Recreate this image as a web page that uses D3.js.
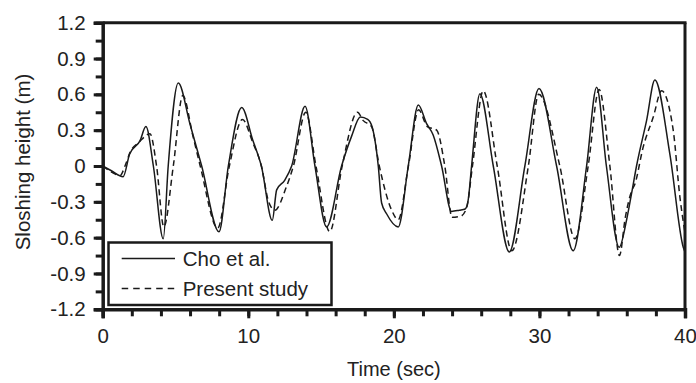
<!DOCTYPE html>
<html lang="en">
<head>
<meta charset="UTF-8">
<title>Sloshing height</title>
<script src="https://d3js.org/d3.v7.min.js"></script>
<style>
  body { margin: 0; background: #fff; }
  svg { display: block; }
  text { font-family: "Liberation Sans", Arial, sans-serif; fill: #222; }
  .axis path, .axis line { stroke: #1a1a1a; }
</style>
</head>
<body>
<script>
// values: time (sec), sloshing height (m)
const timeCho = [0, 0.6, 1.4, 1.85, 2.56, 2.97, 3.48, 4.16, 4.5, 5.19, 6.0, 6.8, 7.99, 8.63, 9.55, 10.3, 10.9, 11.65, 11.95, 12.5, 12.98, 13.9, 14.58, 15.38, 16.41, 17.1, 17.7, 18.2, 18.5, 18.93, 19.16, 19.5, 20.3, 20.99, 21.68, 22.25, 22.7, 23.28, 23.96, 24.5, 24.9, 25.1, 25.34, 25.91, 26.83, 27.93, 29.0, 29.97, 31.18, 32.32, 33.24, 33.93, 34.6, 35.48, 35.99, 36.33, 36.67, 37.36, 37.93, 38.96, 39.88, 40];
const heightCho = [0, -0.04, -0.09, 0.10, 0.21, 0.33, 0, -0.61, 0, 0.695, 0.35, 0, -0.55, 0, 0.49, 0.22, 0, -0.455, -0.2, -0.12, 0, 0.5, 0, -0.51, 0, 0.25, 0.41, 0.39, 0.33, 0, -0.31, -0.4, -0.51, 0, 0.51, 0.355, 0.26, 0, -0.38, -0.37, -0.36, -0.29, 0, 0.606, 0, -0.72, 0, 0.65, 0, -0.71, 0, 0.66, 0, -0.68, -0.45, -0.23, 0, 0.38, 0.72, 0.1, -0.68, -0.72];

const timePresent = [0, 0.6, 1.2, 1.53, 1.9, 2.5, 3.25, 3.7, 4.2, 4.85, 5.5, 6.2, 6.7, 7.9, 8.7, 9.6, 10.3, 10.9, 11.4, 11.83, 12.6, 13.1, 13.95, 14.65, 15.6, 16.45, 17.5, 17.9, 18.47, 19.0, 19.85, 20.3, 21.0, 21.7, 22.3, 22.94, 23.5, 24.0, 24.6, 25.0, 25.4, 26.14, 27.1, 28.1, 29.24, 29.95, 31.4, 32.44, 33.35, 34.1, 34.84, 35.5, 35.9, 36.33, 36.56, 37.13, 37.82, 38.39, 39.19, 39.65, 40];
const heightPresent = [0, -0.05, -0.08, 0, 0.12, 0.2, 0.27, 0, -0.51, 0, 0.59, 0.25, 0, -0.52, 0, 0.39, 0.2, 0, -0.3, -0.37, -0.18, 0, 0.45, 0, -0.55, 0, 0.45, 0.38, 0.33, 0, -0.37, -0.45, 0, 0.47, 0.33, 0.30, 0, -0.43, -0.42, -0.35, 0, 0.63, 0, -0.71, 0, 0.6, 0, -0.61, 0, 0.64, 0, -0.75, -0.43, -0.21, -0.15, 0.16, 0.41, 0.63, 0.30, -0.26, -0.56];

const xTicks = [0, 10, 20, 30, 40];
const yTicks = [1.2, 0.9, 0.6, 0.3, 0, -0.3, -0.6, -0.9, -1.2];

const W = 696, H = 383;
const plotLeft = 102.7, plotRight = 685, plotTop = 22.7, plotBottom = 309.3;

const svg = d3.select('body').append('svg')
  .attr('width', W)
  .attr('height', H);

const x = d3.scaleLinear().domain([0, 40]).range([plotLeft, plotRight]);
const y = d3.scaleLinear().domain([-1.2, 1.2]).range([plotBottom, plotTop]);

// clip so the lines stop at the frame
svg.append('clipPath').attr('id', 'plot')
  .append('rect')
  .attr('x', plotLeft).attr('y', plotTop)
  .attr('width', plotRight - plotLeft).attr('height', plotBottom - plotTop);

const line = d3.line()
  .x(d => x(d[0]))
  .y(d => y(d[1]))
  .curve(d3.curveMonotoneX);

const cho = timeCho.map((t, i) => [t, heightCho[i]]);
const present = timePresent.map((t, i) => [t, heightPresent[i]]);

const lines = svg.append('g').attr('clip-path', 'url(#plot)');
lines.append('path')
  .datum(present)
  .attr('d', line)
  .attr('fill', 'none')
  .attr('stroke', '#1a1a1a')
  .attr('stroke-width', 1.5)
  .attr('stroke-dasharray', '6,4');
lines.append('path')
  .datum(cho)
  .attr('d', line)
  .attr('fill', 'none')
  .attr('stroke', '#1a1a1a')
  .attr('stroke-width', 1.5);

// minor ticks
const xMinor = d3.range(0, 41, 2);
const yMinor = d3.range(-8, 9).map(k => k * 0.15);

svg.append('g')
  .attr('class', 'axis')
  .attr('transform', `translate(0,${plotBottom})`)
  .call(d3.axisBottom(x).tickValues(xMinor).tickSize(7).tickFormat(''))
  .call(g => g.select('.domain').remove())
  .selectAll('line').attr('stroke-width', 3);

svg.append('g')
  .attr('class', 'axis')
  .attr('transform', `translate(${plotLeft},0)`)
  .call(d3.axisLeft(y).tickValues(yMinor).tickSize(7).tickFormat(''))
  .call(g => g.select('.domain').remove())
  .selectAll('line').attr('stroke-width', 3);

// major axes
const xAxis = svg.append('g')
  .attr('class', 'axis')
  .attr('transform', `translate(0,${plotBottom})`)
  .call(d3.axisBottom(x).tickValues(xTicks).tickSizeOuter(0).tickSize(9).tickPadding(10));
xAxis.select('.domain').attr('stroke-width', 3.5);
xAxis.selectAll('line').attr('stroke-width', 3);
xAxis.selectAll('text').style('font-size', '20.5px').attr('fill', '#222');

const yAxis = svg.append('g')
  .attr('class', 'axis')
  .attr('transform', `translate(${plotLeft},0)`)
  .call(d3.axisLeft(y).tickValues(yTicks).tickSizeOuter(0).tickSize(9).tickPadding(8)
    .tickFormat(d => d === 0 ? '0' : d.toFixed(1)));
yAxis.select('.domain').attr('stroke-width', 3.5);
yAxis.selectAll('line').attr('stroke-width', 3);
yAxis.selectAll('text').style('font-size', '20.5px').attr('fill', '#222');

// top and right frame
svg.append('line')
  .attr('x1', plotLeft).attr('x2', plotRight + 1.5)
  .attr('y1', plotTop).attr('y2', plotTop)
  .attr('stroke', '#1a1a1a').attr('stroke-width', 3);
svg.append('line')
  .attr('x1', plotRight).attr('x2', plotRight)
  .attr('y1', plotTop).attr('y2', plotBottom)
  .attr('stroke', '#1a1a1a').attr('stroke-width', 3);

// axis titles
svg.append('text')
  .attr('x', (plotLeft + plotRight) / 2)
  .attr('y', 376)
  .attr('text-anchor', 'middle')
  .style('font-size', '20px')
  .text('Time (sec)');

svg.append('text')
  .attr('transform', 'translate(29.5,162) rotate(-90)')
  .attr('text-anchor', 'middle')
  .style('font-size', '20.5px')
  .text('Sloshing height (m)');

// legend
const legend = svg.append('g');
legend.append('rect')
  .attr('x', 108.5).attr('y', 242.5)
  .attr('width', 223).attr('height', 62.5)
  .attr('fill', '#fff')
  .attr('stroke', '#1a1a1a')
  .attr('stroke-width', 2.5);

const legendItems = ['Cho et al.', 'Present study'];
const legendDash = ['none', '6.5,5'];
legendItems.forEach((name, i) => {
  const ly = 258.5 + i * 30;
  legend.append('line')
    .attr('x1', 121.7).attr('x2', 175)
    .attr('y1', ly).attr('y2', ly)
    .attr('stroke', '#1a1a1a')
    .attr('stroke-width', 1.5)
    .attr('stroke-dasharray', legendDash[i]);
  legend.append('text')
    .attr('x', 182.7)
    .attr('y', ly + 7.5)
    .style('font-size', '20.5px')
    .text(name);
});
</script>
</body>
</html>
